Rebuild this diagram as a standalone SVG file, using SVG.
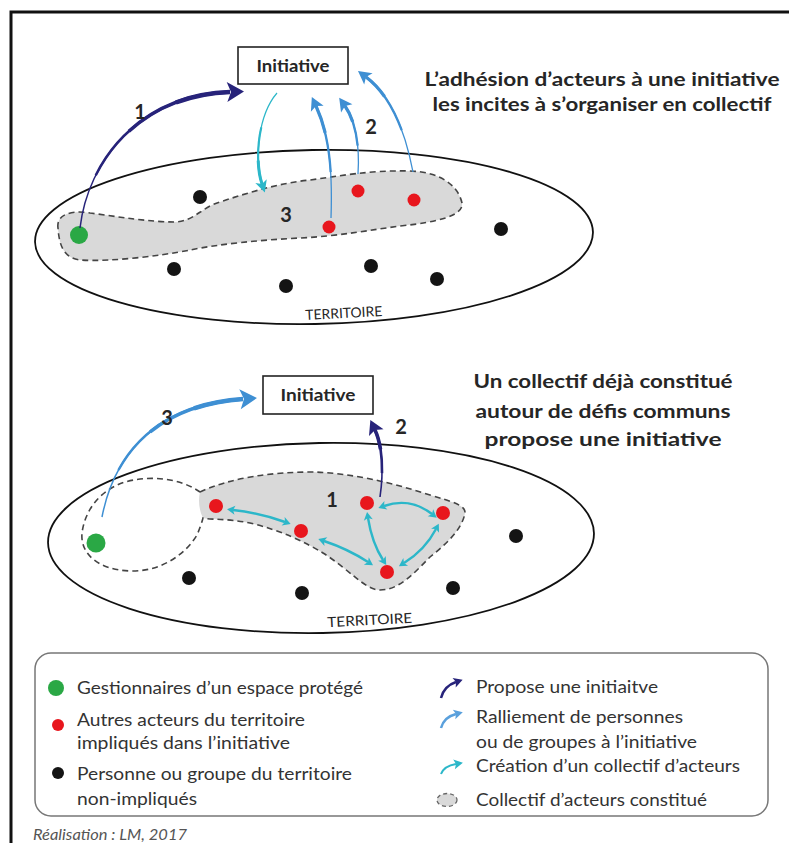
<svg xmlns="http://www.w3.org/2000/svg" xmlns:xlink="http://www.w3.org/1999/xlink" width="789" height="843" viewBox="0 0 789 843">
<style>
  .lbl{font-family:Lato,"Liberation Sans",sans-serif;fill:#262626}
  .b{font-weight:bold}
  .title{font-size:19px;font-weight:bold;text-anchor:middle}
  .num{font-size:20px;font-weight:bold;text-anchor:middle}
  .leg{font-size:16.5px;fill:#333}
  .terr{font-size:14px;text-anchor:middle}
  .terrain{fill:none;stroke:#111;stroke-width:1.8}
  .coll{fill:#d9d9d9;stroke:none}
  .dash{fill:none;stroke:#444;stroke-width:1.6;stroke-dasharray:6 4}
  .box{fill:#fff;stroke:#222;stroke-width:1.6}
  .navy{stroke:#27237a;fill:none}
  .blue{stroke:#3e8fd3;fill:none}
  .cyan{stroke:#2cb7c9;fill:none}
  .w1{stroke-width:1.5}
  .w2{stroke-width:2.5;stroke-dasharray:0 25 75 0}
  .w3{stroke-width:3.5;stroke-dasharray:0 50 50 0}
  .w4{stroke-width:4.5;stroke-dasharray:0 75 25 0}
  .green{fill:#2aa845}
  .red{fill:#e8161d}
  .black{fill:#141414}
</style>
<defs>
  <marker id="hNavyL" markerUnits="userSpaceOnUse" viewBox="-2 -12 24 24" markerWidth="24" markerHeight="24" refX="3" refY="0" orient="auto"><path d="M0,-10 L17,0 L0,10 L4,0 Z" fill="#27237a"/></marker>
  <marker id="hNavyM" markerUnits="userSpaceOnUse" viewBox="-2 -12 24 24" markerWidth="24" markerHeight="24" refX="3" refY="0" orient="auto"><path d="M0,-8 L14,0 L0,8 L3,0 Z" fill="#27237a"/></marker>
  <marker id="hBlueL" markerUnits="userSpaceOnUse" viewBox="-2 -12 24 24" markerWidth="24" markerHeight="24" refX="3" refY="0" orient="auto"><path d="M0,-10 L17,0 L0,10 L4,0 Z" fill="#3e8fd3"/></marker>
  <marker id="hBlueM" markerUnits="userSpaceOnUse" viewBox="-2 -12 24 24" markerWidth="24" markerHeight="24" refX="3" refY="0" orient="auto"><path d="M0,-7 L13,0 L0,7 L3,0 Z" fill="#3e8fd3"/></marker>
  <marker id="hCyanM" markerUnits="userSpaceOnUse" viewBox="-2 -12 24 24" markerWidth="24" markerHeight="24" refX="3" refY="0" orient="auto"><path d="M0,-6 L12,0 L0,6 L3,0 Z" fill="#2cb7c9"/></marker>
  <marker id="hCyanS" markerUnits="userSpaceOnUse" viewBox="-2 -12 24 24" markerWidth="24" markerHeight="24" refX="2" refY="0" orient="auto-start-reverse"><path d="M0,-4.5 L8,0 L0,4.5 L2,0 Z" fill="#2cb7c9"/></marker>
  <marker id="lNavy" markerUnits="userSpaceOnUse" viewBox="-2 -12 24 24" markerWidth="24" markerHeight="24" refX="2" refY="0" orient="auto"><path d="M0,-5 L9,0 L0,5 L2,0 Z" fill="#27237a"/></marker>
  <marker id="lBlue" markerUnits="userSpaceOnUse" viewBox="-2 -12 24 24" markerWidth="24" markerHeight="24" refX="2" refY="0" orient="auto"><path d="M0,-5 L9,0 L0,5 L2,0 Z" fill="#5aa0dc"/></marker>
  <marker id="lCyan" markerUnits="userSpaceOnUse" viewBox="-2 -12 24 24" markerWidth="24" markerHeight="24" refX="2" refY="0" orient="auto"><path d="M0,-5 L9,0 L0,5 L2,0 Z" fill="#2cb7c9"/></marker>
  <path id="pA1" pathLength="100" d="M80,228 C88,160 140,95 230,92"/>
  <path id="pC1" pathLength="100" d="M277,93 C258,115 254,160 262,184"/>
  <path id="pB1" pathLength="100" d="M331,218 C333,160 327,130 316,106"/>
  <path id="pB2" pathLength="100" d="M358,174 C360,145 355,120 345,106"/>
  <path id="pB3" pathLength="100" d="M413,172 C405,130 390,95 366,77"/>
  <path id="pB4" pathLength="100" d="M102,517 C115,450 160,405 243,399"/>
  <path id="pA2" pathLength="100" d="M380,497 C384,470 382,445 375,430"/>
</defs>
<rect width="789" height="843" fill="#fff"/>
<rect x="11" y="12" width="800" height="860" fill="none" stroke="#111" stroke-width="3"/>

<!-- Top scene -->
<g id="territoire-haut">
  <ellipse class="terrain" cx="314" cy="237" rx="279" ry="87" transform="rotate(-1 314 237)"/>
  <text class="lbl terr" x="344" y="318" transform="rotate(-3 344 318)" textLength="77" lengthAdjust="spacingAndGlyphs">TERRITOIRE</text>
</g>
<g id="collectif-haut">
  <path class="coll" d="M58,228 C56,214 72,210 90,213 C120,217 150,222 175,222 C195,221 200,208 220,202 C250,192 280,183 310,180 C340,176 370,170 410,171 C440,172 458,185 462,203 C464,215 440,222 400,226 C370,230 340,236 300,238 C260,240 220,244 190,250 C160,256 110,262 80,260 C62,258 59,242 58,228 Z"/>
  <path class="dash" d="M58,228 C56,214 72,210 90,213 C120,217 150,222 175,222 C195,221 200,208 220,202 C250,192 280,183 310,180 C340,176 370,170 410,171 C440,172 458,185 462,203 C464,215 440,222 400,226 C370,230 340,236 300,238 C260,240 220,244 190,250 C160,256 110,262 80,260 C62,258 59,242 58,228 Z"/>
</g>
<g id="acteurs-haut">
  <circle class="green" cx="79" cy="235" r="9"/>
  <circle class="red" cx="329" cy="227" r="6.5"/>
  <circle class="red" cx="358" cy="191" r="6.5"/>
  <circle class="red" cx="414" cy="200" r="6.5"/>
  <circle class="black" cx="200" cy="197" r="7"/>
  <circle class="black" cx="174" cy="269" r="7"/>
  <circle class="black" cx="286" cy="286" r="7"/>
  <circle class="black" cx="371" cy="266" r="7"/>
  <circle class="black" cx="437" cy="279" r="7"/>
  <circle class="black" cx="501" cy="229" r="7"/>
</g>
<g id="initiative-haut">
  <rect class="box" x="238" y="47" width="110" height="37"/>
  <text class="lbl b" x="293" y="72" font-size="17" text-anchor="middle" textLength="73" lengthAdjust="spacingAndGlyphs">Initiative</text>
</g>
<g id="titre-haut">
  <text class="lbl title" x="602" y="86" textLength="355" lengthAdjust="spacingAndGlyphs">L’adhésion d’acteurs à une initiative</text>
  <text class="lbl title" x="602" y="111" textLength="339" lengthAdjust="spacingAndGlyphs">les incites à s’organiser en collectif</text>
</g>

<!-- Bottom scene -->
<g id="territoire-bas">
  <ellipse class="terrain" cx="321" cy="538" rx="273" ry="95" transform="rotate(-1 321 538)"/>
  <text class="lbl terr" x="370" y="625" transform="rotate(-3 370 625)" textLength="85" lengthAdjust="spacingAndGlyphs">TERRITOIRE</text>
</g>
<g id="collectif-bas">
  <path class="coll" d="M200,492 C230,478 270,472 313,472 C350,473 390,482 430,495 C450,501 466,505 465,513 C462,530 445,545 430,557 C415,572 400,590 380,590 C365,590 350,570 323,553 C305,542 280,530 250,523 C225,518 208,520 203,518 C199,510 198,500 200,492 Z"/>
  <path class="dash" d="M200,492 C230,478 270,472 313,472 C350,473 390,482 430,495 C450,501 466,505 465,513 C462,530 445,545 430,557 C415,572 400,590 380,590 C365,590 350,570 323,553 C305,542 280,530 250,523 C225,518 208,520 203,518 C202,522 200,528 197,535 C185,555 160,572 130,571 C100,570 80,555 82,533 C85,510 100,490 125,482 C150,475 180,478 200,492"/>
</g>
<g id="acteurs-bas">
  <circle class="green" cx="96" cy="543" r="9.5"/>
  <circle class="red" cx="216" cy="506" r="7"/>
  <circle class="red" cx="301" cy="531" r="7"/>
  <circle class="red" cx="367" cy="503" r="7"/>
  <circle class="red" cx="443" cy="513" r="7"/>
  <circle class="red" cx="387" cy="572" r="7"/>
  <circle class="black" cx="189" cy="578" r="7"/>
  <circle class="black" cx="302" cy="593" r="7"/>
  <circle class="black" cx="453" cy="588" r="7"/>
  <circle class="black" cx="516" cy="536" r="7"/>
</g>
<g id="initiative-bas">
  <rect class="box" x="263" y="376" width="110" height="38"/>
  <text class="lbl b" x="318" y="401" font-size="17" text-anchor="middle" textLength="75" lengthAdjust="spacingAndGlyphs">Initiative</text>
</g>
<g id="titre-bas">
  <text class="lbl title" x="603" y="388" textLength="259" lengthAdjust="spacingAndGlyphs">Un collectif déjà constitué</text>
  <text class="lbl title" x="603" y="418" textLength="255" lengthAdjust="spacingAndGlyphs">autour de défis communs</text>
  <text class="lbl title" x="603" y="446" textLength="237" lengthAdjust="spacingAndGlyphs">propose une initiative</text>
</g>

<g id="connecteurs">
  <use href="#pA1" class="navy w1" marker-end="url(#hNavyL)"/>
  <use href="#pA1" class="navy w2"/>
  <use href="#pA1" class="navy w3"/>
  <use href="#pA1" class="navy w4"/>
  <use href="#pC1" class="cyan" stroke-width="1.2" marker-end="url(#hCyanM)"/>
  <use href="#pC1" class="cyan" stroke-width="2.2" stroke-dasharray="0 40 60 0"/>
  <use href="#pC1" class="cyan" stroke-width="3" stroke-dasharray="0 75 25 0"/>
  <use href="#pB1" class="blue" stroke-width="1.3" marker-end="url(#hBlueM)"/>
  <use href="#pB1" class="blue" stroke-width="2.3" stroke-dasharray="0 40 60 0"/>
  <use href="#pB1" class="blue" stroke-width="3.2" stroke-dasharray="0 75 25 0"/>
  <use href="#pB2" class="blue" stroke-width="1.3" marker-end="url(#hBlueM)"/>
  <use href="#pB2" class="blue" stroke-width="2.3" stroke-dasharray="0 40 60 0"/>
  <use href="#pB2" class="blue" stroke-width="3.2" stroke-dasharray="0 75 25 0"/>
  <use href="#pB3" class="blue" stroke-width="1.3" marker-end="url(#hBlueM)"/>
  <use href="#pB3" class="blue" stroke-width="2.3" stroke-dasharray="0 40 60 0"/>
  <use href="#pB3" class="blue" stroke-width="3.2" stroke-dasharray="0 75 25 0"/>
  <use href="#pB4" class="blue w1" marker-end="url(#hBlueL)"/>
  <use href="#pB4" class="blue w2"/>
  <use href="#pB4" class="blue w3"/>
  <use href="#pB4" class="blue w4"/>
  <use href="#pA2" class="navy" stroke-width="1.6" marker-end="url(#hNavyM)"/>
  <use href="#pA2" class="navy" stroke-width="2.6" stroke-dasharray="0 35 65 0"/>
  <use href="#pA2" class="navy" stroke-width="3.6" stroke-dasharray="0 70 30 0"/>
  <g class="cyan" stroke-width="2.4" marker-start="url(#hCyanS)" marker-end="url(#hCyanS)">
    <path d="M233,510 Q260,513 285,522"/>
    <path d="M324,541 Q348,549 368,562"/>
    <path d="M384,506 Q410,497 432,514"/>
    <path d="M368,518 Q372,543 383,560"/>
    <path d="M436,529 Q425,550 404,563"/>
  </g>
</g>

<g id="numeros">
  <text class="lbl num" x="140" y="119">1</text>
  <text class="lbl num" x="371" y="134">2</text>
  <text class="lbl num" x="286" y="222">3</text>
  <text class="lbl num" x="167" y="425">3</text>
  <text class="lbl num" x="401" y="434">2</text>
  <text class="lbl num" x="332" y="507">1</text>
</g>

<g id="legende">
  <rect x="35" y="653" width="733" height="163" rx="16" ry="16" fill="#fff" stroke="#777" stroke-width="1.5"/>
  <circle class="green" cx="56" cy="688" r="8"/>
  <text class="lbl leg" x="77" y="694" textLength="286" lengthAdjust="spacingAndGlyphs">Gestionnaires d’un espace protégé</text>
  <circle class="red" cx="58" cy="725" r="6"/>
  <text class="lbl leg" x="77" y="726" textLength="228" lengthAdjust="spacingAndGlyphs">Autres acteurs du territoire</text>
  <text class="lbl leg" x="77" y="749" textLength="213" lengthAdjust="spacingAndGlyphs">impliqués dans l’initiative</text>
  <circle class="black" cx="58" cy="773" r="6"/>
  <text class="lbl leg" x="77" y="780" textLength="275" lengthAdjust="spacingAndGlyphs">Personne ou groupe du territoire</text>
  <text class="lbl leg" x="77" y="805" textLength="120" lengthAdjust="spacingAndGlyphs">non-impliqués</text>

  <path d="M441,698 Q444,686 456,682" fill="none" stroke="#27237a" stroke-width="2.5" marker-end="url(#lNavy)"/>
  <text class="lbl leg" x="476" y="693" textLength="182" lengthAdjust="spacingAndGlyphs">Propose une initiaitve</text>
  <path d="M441,728 Q444,717 456,714" fill="none" stroke="#5aa0dc" stroke-width="2.5" marker-end="url(#lBlue)"/>
  <text class="lbl leg" x="476" y="723" textLength="207" lengthAdjust="spacingAndGlyphs">Ralliement de personnes</text>
  <text class="lbl leg" x="476" y="748" textLength="221" lengthAdjust="spacingAndGlyphs">ou de groupes à l’initiative</text>
  <path d="M441,774 Q444,766 456,764" fill="none" stroke="#2cb7c9" stroke-width="2" marker-end="url(#lCyan)"/>
  <text class="lbl leg" x="476" y="772" textLength="264" lengthAdjust="spacingAndGlyphs">Création d’un collectif d’acteurs</text>
  <ellipse cx="447" cy="800" rx="10" ry="6.5" fill="#d9d9d9" stroke="#666" stroke-width="1.3" stroke-dasharray="4 3"/>
  <text class="lbl leg" x="476" y="806" textLength="231" lengthAdjust="spacingAndGlyphs">Collectif d’acteurs constitué</text>
</g>
<text class="lbl" x="33" y="840" font-size="15" font-style="italic" style="fill:#555" textLength="154" lengthAdjust="spacingAndGlyphs">Réalisation : LM, 2017</text>
</svg>
